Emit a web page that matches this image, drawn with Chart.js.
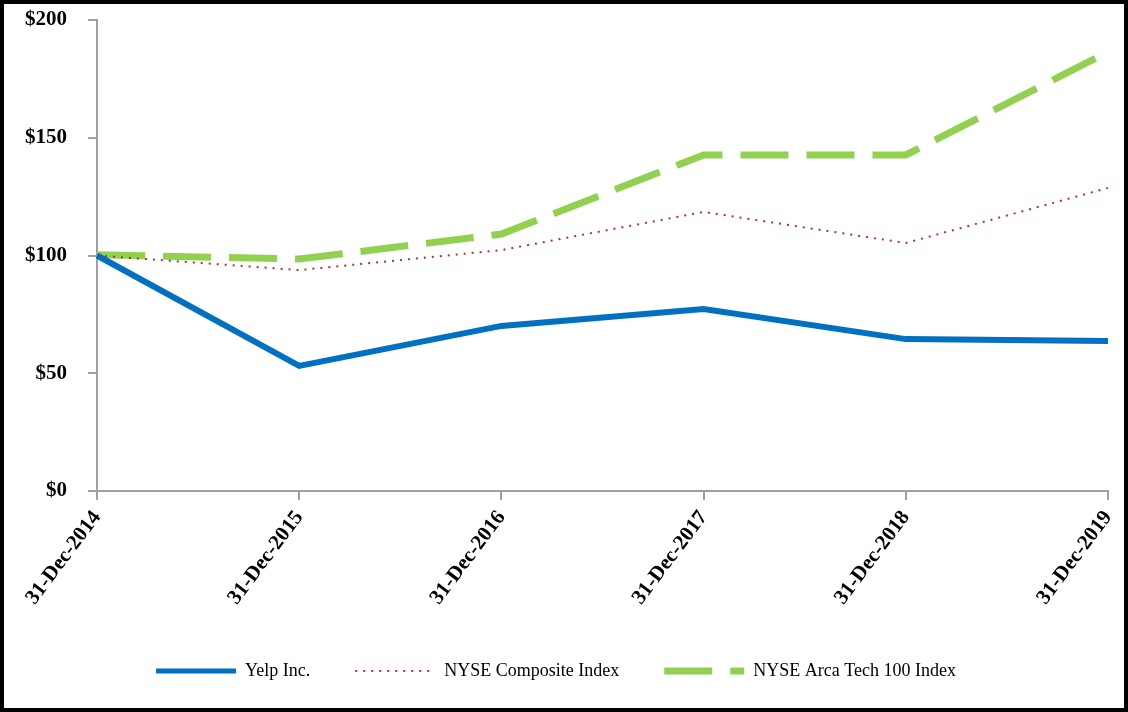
<!DOCTYPE html>
<html>
<head>
<meta charset="utf-8">
<script src="https://cdn.jsdelivr.net/npm/chart.js@4"></script>
<style>
  html, body { margin: 0; padding: 0; background: #fff; }
  #frame { width: 1128px; height: 712px; box-sizing: border-box; border: 4px solid #000; position: relative; }
  #chart { display: block; }
</style>
</head>
<body>
<div id="frame"><canvas id="chart" width="1120" height="704"></canvas></div>
<script>
const labels = ['31-Dec-2014', '31-Dec-2015', '31-Dec-2016', '31-Dec-2017', '31-Dec-2018', '31-Dec-2019'];
const yelp = [100, 53.1, 70.1, 77.3, 64.5, 63.7];
const nyseComposite = [100, 93.8, 102.3, 118.5, 105.3, 128.7];
const arcaTech = [100.3, 98.5, 109.1, 142.7, 142.7, 186.4];
const yTicks = [0, 50, 100, 150, 200];

const axisGrey = '#A0A0A0';
const tickFont = { family: 'Liberation Serif', size: 21, weight: 'bold' };

new Chart(document.getElementById('chart'), {
  type: 'line',
  data: {
    labels: labels,
    datasets: [
      {
        label: 'Yelp Inc.',
        data: yelp,
        borderColor: '#0070C0',
        borderWidth: 6,
        pointRadius: 0,
        tension: 0
      },
      {
        label: 'NYSE Composite Index',
        data: nyseComposite,
        borderColor: '#A8372B',
        borderWidth: 2,
        borderDash: [2, 6],
        pointRadius: 0,
        tension: 0
      },
      {
        label: 'NYSE Arca Tech 100 Index',
        data: arcaTech,
        borderColor: '#92D050',
        borderWidth: 7,
        borderDash: [48, 18],
        pointRadius: 0,
        tension: 0
      }
    ]
  },
  options: {
    responsive: false,
    animation: false,
    layout: { padding: { top: 16, right: 16, bottom: 18, left: 0 } },
    scales: {
      x: {
        offset: false,
        afterFit: (scale) => {
          scale.height = 126;
          scale.paddingRight = 0;
        },
        grid: { display: true, drawOnChartArea: false, color: axisGrey, tickLength: 9, lineWidth: 2 },
        border: { color: axisGrey, width: 2 },
        ticks: {
          font: tickFont,
          color: '#000',
          minRotation: 53,
          maxRotation: 53,
          padding: 6,
          autoSkip: false
        }
      },
      y: {
        min: 0,
        max: 200,
        afterBuildTicks: (scale) => { scale.ticks = yTicks.map(v => ({ value: v })); },
        afterFit: (scale) => {
          scale.width = 93;
          scale.paddingTop = 0;
          scale.paddingBottom = 0;
        },
        grid: { display: true, drawOnChartArea: false, color: axisGrey, tickLength: 9, lineWidth: 2 },
        border: { color: axisGrey, width: 2 },
        ticks: {
          font: tickFont,
          color: '#000',
          padding: 21,
          callback: (v) => '$' + v
        }
      }
    },
    plugins: {
      tooltip: { enabled: false },
      legend: {
        position: 'bottom',
        labels: {
          font: { family: 'Liberation Serif', size: 18 },
          color: '#000',
          usePointStyle: true,
          pointStyleWidth: 80,
          boxHeight: 18,
          padding: 45,
          generateLabels: (chart) => chart.data.datasets.map((ds, i) => ({
            text: ds.label,
            datasetIndex: i,
            pointStyle: 'line',
            strokeStyle: ds.borderColor,
            fillStyle: ds.borderColor,
            lineWidth: i === 0 ? 5 : ds.borderWidth,
            lineDash: ds.borderDash || [],
            fontColor: '#000',
            hidden: false
          }))
        }
      }
    }
  }
});
</script>
</body>
</html>
